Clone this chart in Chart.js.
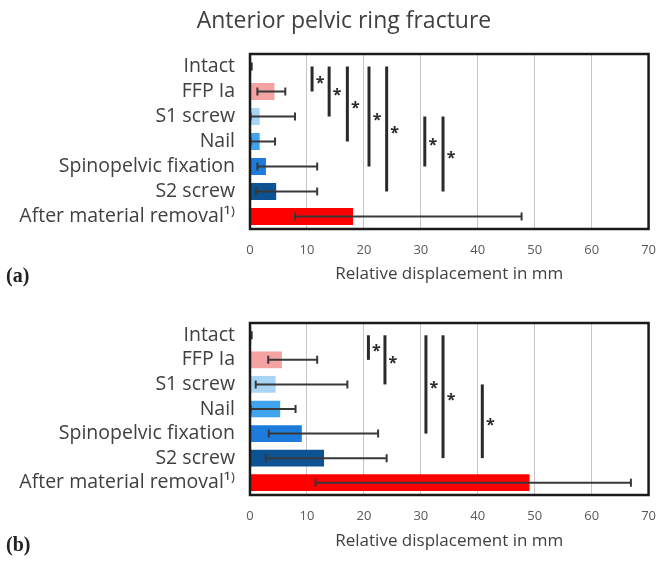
<!DOCTYPE html>
<html>
<head>
<meta charset="utf-8">
<script src="https://cdn.jsdelivr.net/npm/chart.js@4.4.1/dist/chart.umd.min.js"></script>
<style>
  html, body { margin: 0; padding: 0; background: #fff; }
  #page { position: relative; width: 669px; height: 561px; overflow: hidden; }
  .wrap { position: absolute; left: 0; }
  .panel { position: absolute; left: 6px; font-family: "Liberation Serif", serif; font-weight: bold; font-size: 20px; color: #222; }
  #title { position: absolute; left: 144px; width: 400px; top: 3px; text-align: center; font-family: "Open Sans", sans-serif; font-size: 23px; color: #404040; }
</style>
</head>
<body>
<div id="page">
  <div class="wrap" style="top:0"><canvas id="chartA" width="669" height="290"></canvas></div>
  <div class="wrap" style="top:290px"><canvas id="chartB" width="669" height="271"></canvas></div>
  <div id="title">Anterior pelvic ring fracture</div>
  <div class="panel" style="top:264px">(a)</div>
  <div class="panel" style="top:533px">(b)</div>
</div>
<script>
// categories and tick labels
const categories = ['Intact', 'FFP Ia', 'S1 screw', 'Nail', 'Spinopelvic fixation', 'S2 screw', 'After material removal\u00b9\u207e'];
const xTicks = [0, 10, 20, 30, 40, 50, 60, 70];
const barColors = ['#333333', '#f4a2a2', '#a9d5f5', '#40a3ee', '#1d7cdb', '#0d5292', '#fe0000'];

// (a) values, error range
const valuesA = [0.2, 4.3, 1.7, 1.7, 2.8, 4.6, 18.1];
const lowA = [0.1, 1.3, 0.1, 0.1, 1.3, 1.1, 7.9];
const highA = [0.3, 6.2, 7.9, 4.4, 11.8, 11.8, 47.7];
// (a) significance lines: x value, from row, to row
const sigXA = [10.9, 13.9, 17.1, 20.9, 24.0, 30.7, 33.9];
const sigFromA = [0, 0, 0, 0, 0, 2, 2];
const sigToA = [1, 2, 3, 4, 5, 4, 5];

// (b)
const valuesB = [0.2, 5.6, 4.5, 5.3, 9.1, 13.0, 49.1];
const lowB = [0.1, 3.2, 1.0, 0.1, 3.3, 2.8, 11.5];
const highB = [0.3, 11.8, 17.1, 8.0, 22.5, 24.0, 66.9];
const sigXB = [20.8, 23.7, 30.9, 33.9, 40.8];
const sigFromB = [0, 0, 0, 0, 2];
const sigToB = [1, 2, 4, 5, 5];

const extrasPlugin = {
    id: 'extras',
    afterDatasetsDraw(chart, args, opts) {
        const ctx = chart.ctx;
        const xs = chart.scales.x;
        const ys = chart.scales.y;
        ctx.save();
        // error bars
        ctx.strokeStyle = '#383838';
        ctx.lineWidth = 2;
        opts.low.forEach((lo, i) => {
            const y = ys.getPixelForValue(i);
            const x1 = xs.getPixelForValue(lo);
            const x2 = xs.getPixelForValue(opts.high[i]);
            ctx.beginPath();
            ctx.moveTo(x1, y); ctx.lineTo(x2, y);
            ctx.moveTo(x1, y - 4); ctx.lineTo(x1, y + 4);
            ctx.moveTo(x2, y - 4); ctx.lineTo(x2, y + 4);
            ctx.stroke();
        });
        // significance lines + stars
        ctx.strokeStyle = '#2a2a2a';
        ctx.lineWidth = 3;
        ctx.fillStyle = '#2a2a2a';
        ctx.font = 'bold 16px "Open Sans"';
        ctx.textAlign = 'center';
        ctx.textBaseline = 'middle';
        opts.sigX.forEach((v, k) => {
            const x = xs.getPixelForValue(v);
            const y1 = ys.getPixelForValue(opts.sigFrom[k]);
            const y2 = ys.getPixelForValue(opts.sigTo[k]);
            ctx.beginPath();
            ctx.moveTo(x, y1); ctx.lineTo(x, y2);
            ctx.stroke();
            ctx.fillText('*', x + 8, (y1 + y2) / 2 + 4);
        });
        ctx.restore();
    },
    afterDraw(chart) {
        const a = chart.chartArea;
        const ctx = chart.ctx;
        ctx.save();
        ctx.strokeStyle = '#1a1a1a';
        ctx.lineWidth = 2.5;
        ctx.strokeRect(a.left, a.top, a.right - a.left, a.bottom - a.top);
        ctx.restore();
    }
};

function makeChart(id, values, low, high, sigX, sigFrom, sigTo, padTop, xHeight, titleBottom) {
    return new Chart(document.getElementById(id), {
        type: 'bar',
        data: {
            labels: categories,
            datasets: [{
                data: values,
                backgroundColor: barColors,
                borderWidth: 0,
                barPercentage: 0.68,
                categoryPercentage: 1
            }]
        },
        options: {
            indexAxis: 'y',
            responsive: false,
            animation: false,
            devicePixelRatio: 1,
            layout: { padding: { left: 0, right: 13, top: padTop, bottom: 0 } },
            scales: {
                x: {
                    min: 0,
                    max: 70,
                    afterBuildTicks: s => { s.ticks = xTicks.map(v => ({ value: v })); },
                    afterFit: s => { s.height = xHeight; },
                    ticks: { color: '#595959', font: { family: 'Open Sans', size: 13 }, padding: 13 },
                    grid: { color: '#c6c6c6', lineWidth: 1, drawTicks: false },
                    border: { display: false },
                    title: {
                        display: true,
                        text: 'Relative displacement in mm',
                        color: '#404040',
                        font: { family: 'Open Sans', size: 17 },
                        padding: { top: 0, bottom: titleBottom }
                    }
                },
                y: {
                    afterFit: s => { s.width = 250; },
                    ticks: { color: '#404040', font: { family: 'Open Sans', size: 19.5 }, padding: 7, autoSkip: false },
                    grid: { display: false },
                    border: { display: false }
                }
            },
            plugins: {
                legend: { display: false },
                tooltip: { enabled: false },
                extras: { low: low, high: high, sigX: sigX, sigFrom: sigFrom, sigTo: sigTo }
            }
        },
        plugins: [extrasPlugin]
    });
}

makeChart('chartA', valuesA, lowA, highA, sigXA, sigFromA, sigToA, 54, 61, 6);
makeChart('chartB', valuesB, lowB, highB, sigXB, sigFromB, sigToB, 33, 66, 10);
</script>
</body>
</html>
